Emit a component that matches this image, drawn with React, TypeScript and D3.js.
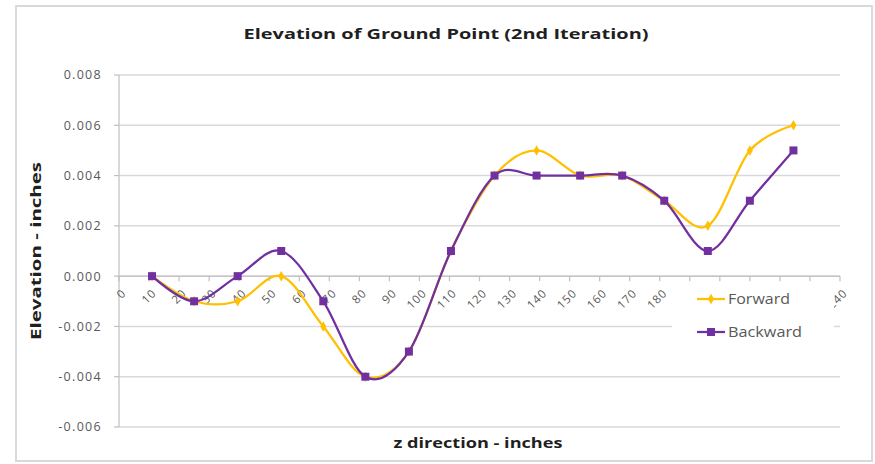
import React from "react";
import * as d3 from "d3";

const zValues = [11, 25, 39.5, 54, 68, 82, 96.5, 110.5, 125, 139, 153.5, 167.5, 181.5, 196, 210, 224.5];
const forward = [0, -0.001, -0.001, 0, -0.002, -0.004, -0.003, 0.001, 0.004, 0.005, 0.004, 0.004, 0.003, 0.002, 0.005, 0.006];
const backward = [0, -0.001, 0, 0.001, -0.001, -0.004, -0.003, 0.001, 0.004, 0.004, 0.004, 0.004, 0.003, 0.001, 0.003, 0.005];
const xTicks = d3.range(0, 241, 10);
const yTicks = [-0.006, -0.004, -0.002, 0, 0.002, 0.004, 0.006, 0.008];
const seriesNames = ["Forward", "Backward"];

const W = 875;
const H = 464;
const FONT = "'Open Sans', 'Liberation Sans', sans-serif";
const YELLOW = "#FFC000";
const PURPLE = "#7030A0";
const TXT = "#595959";

const fmtY = (t: number) => d3.format(".3f")(t).replace("\u2212", "-");

export default function App() {
  const x = d3.scaleLinear().domain([0, 240]).range([119, 840]);
  const y = d3.scaleLinear().domain([-0.006, 0.008]).range([427, 75]);
  const line = d3
    .line<[number, number]>()
    .x((d) => x(d[0]))
    .y((d) => y(d[1]))
    .curve(d3.curveCardinal.tension(0));
  const fPts = zValues.map((z, i) => [z, forward[i]] as [number, number]);
  const bPts = zValues.map((z, i) => [z, backward[i]] as [number, number]);
  const y0 = y(0);

  const diamond = d3.symbol().type(d3.symbolDiamond).size(32)();
  const square = d3.symbol().type(d3.symbolSquare).size(64)();

  return (
    <svg
      width={W}
      height={H}
      style={{ position: "absolute", left: 0, top: 0, background: "#fff" }}
      fontFamily={FONT}
    >
      <rect x={16} y={6} width={856} height={455} fill="#fff" stroke="#d9d9d9" strokeWidth={2} />
      <text
        x={446}
        y={39}
        textAnchor="middle"
        fontSize={15}
        fontWeight="bold"
        fill="#1f1f1f"
        textLength={405}
        lengthAdjust="spacingAndGlyphs"
      >
        Elevation of Ground Point (2nd Iteration)
      </text>

      {/* gridlines */}
      {yTicks.map((t) => (
        <line key={"g" + t} x1={119} x2={840} y1={y(t)} y2={y(t)} stroke="#d9d9d9" strokeWidth={1.5} />
      ))}
      {/* y axis */}
      <line x1={119} x2={119} y1={75} y2={427} stroke="#bfbfbf" strokeWidth={1.2} />
      {yTicks.map((t) => (
        <g key={"yt" + t}>
          <line x1={114} x2={119} y1={y(t)} y2={y(t)} stroke="#bfbfbf" strokeWidth={1.2} />
          <text x={102} y={y(t)} dy="0.35em" textAnchor="end" fontSize={12.5} letterSpacing={1.3} fill={TXT}>
            {fmtY(t)}
          </text>
        </g>
      ))}
      {/* x axis at zero */}
      <line x1={119} x2={840} y1={y0} y2={y0} stroke="#bfbfbf" strokeWidth={1.2} />
      {xTicks.map((t) => (
        <g key={"xt" + t}>
          <line x1={x(t)} x2={x(t)} y1={y0} y2={y0 + 5} stroke="#bfbfbf" strokeWidth={1.2} />
          <text
            transform={`translate(${x(t) + 5},${y0 + 15}) rotate(-45)`}
            textAnchor="end"
            dy="0.35em"
            fontSize={11.5}
            letterSpacing={0.8}
            fill={TXT}
          >
            {t}
          </text>
        </g>
      ))}

      {/* series */}
      <path d={line(fPts) || ""} fill="none" stroke={YELLOW} strokeWidth={2.25} />
      {fPts.map((p, i) => (
        <path key={"fp" + i} d={diamond || ""} transform={`translate(${x(p[0])},${y(p[1])})`} fill={YELLOW} />
      ))}
      <path d={line(bPts) || ""} fill="none" stroke={PURPLE} strokeWidth={2.25} />
      {bPts.map((p, i) => (
        <path key={"bp" + i} d={square || ""} transform={`translate(${x(p[0])},${y(p[1])})`} fill={PURPLE} />
      ))}

      {/* legend */}
      <rect x={672} y={284} width={162} height={62} fill="#fff" />
      {seriesNames.map((name, i) => {
        const ly = 299 + i * 33;
        const col = i === 0 ? YELLOW : PURPLE;
        return (
          <g key={name}>
            <line x1={697} x2={725} y1={ly} y2={ly} stroke={col} strokeWidth={2.25} />
            <path d={(i === 0 ? diamond : square) || ""} transform={`translate(711,${ly})`} fill={col} />
            <text
              x={728}
              y={ly}
              dy="0.35em"
              fontSize={14}
              fill={TXT}
              textLength={i === 0 ? 62 : 74}
              lengthAdjust="spacingAndGlyphs"
            >
              {name}
            </text>
          </g>
        );
      })}

      {/* axis titles */}
      <text
        x={478}
        y={448}
        textAnchor="middle"
        fontSize={14}
        fontWeight="bold"
        fill="#1f1f1f"
        textLength={169}
        lengthAdjust="spacingAndGlyphs"
      >
        z direction - inches
      </text>
      <text
        transform="translate(41,251) rotate(-90)"
        textAnchor="middle"
        fontSize={14}
        fontWeight="bold"
        fill="#1f1f1f"
        textLength={178}
        lengthAdjust="spacingAndGlyphs"
      >
        Elevation - inches
      </text>
    </svg>
  );
}
